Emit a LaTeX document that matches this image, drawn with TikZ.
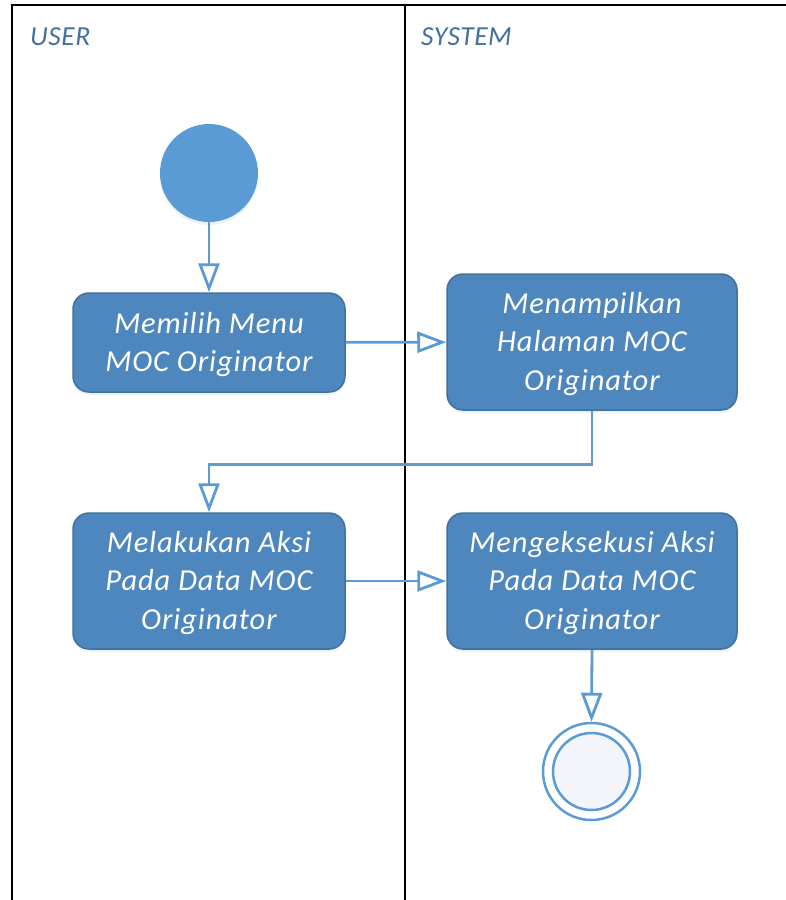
\documentclass[tikz,border=0pt]{standalone}
\usepackage{fontspec}
\setmainfont{Carlito}
\usetikzlibrary{arrows.meta,shadows}
\definecolor{boxfill}{HTML}{4E87BE}
\definecolor{boxline}{HTML}{41719C}
\definecolor{conn}{HTML}{5B9BD5}
\definecolor{hdr}{HTML}{41719C}
\definecolor{endfill}{HTML}{F3F5FB}
\tikzset{
  x=1pt, y=-1pt,
  actbox/.style={draw=boxline, line width=1.5pt, fill=boxfill, rounded corners=16pt,
    text=white, align=center, inner sep=0pt,
    font=\fontsize{30.5}{38.5}\selectfont\itshape\addfontfeatures{LetterSpace=3},
    drop shadow={shadow xshift=0pt, shadow yshift=-3pt, opacity=0.12, fill=conn}},
  acttext/.style={text=white, align=center, inner sep=0pt,
    font=\fontsize{30.5}{38.5}\selectfont\itshape\addfontfeatures{LetterSpace=3}},
  flow/.style={draw=conn, line width=2.8pt,
    -{Triangle[open, length=29pt, width=21pt, line width=2.8pt]}},
  lane/.style={draw=black, line width=2pt},
  hdrtext/.style={text=hdr, anchor=base west, inner sep=0pt,
    font=\fontsize{27.5}{30}\selectfont\itshape\addfontfeatures{LetterSpace=2}}
}
\begin{document}
\begin{tikzpicture}
\useasboundingbox (0,0) rectangle (786,900);
% swimlanes
\draw[lane] (12,900) -- (12,5) -- (786,5);
\draw[lane] (405,5) -- (405,900);
\node[hdrtext] (huser) at (30,45) {USER};
\node[hdrtext] (hsys) at (421,45) {SYSTEM};
% start
\node[circle, fill=conn, minimum size=98pt, inner sep=0pt,
  drop shadow={shadow xshift=0pt, shadow yshift=-3pt, opacity=0.12, fill=conn}] (start) at (209,173) {};
% activities
\node[actbox, minimum width=272pt, minimum height=99pt] (a1) at (209,342.5) {};
\node[acttext] (t1) at (209,344.5) {Memilih Menu\\MOC Originator};
\node[actbox, minimum width=290pt, minimum height=136pt] (a2) at (592,342) {};
\node[acttext] (t2) at (592,344) {Menampilkan\\Halaman MOC\\Originator};
\node[actbox, minimum width=272pt, minimum height=136pt] (a3) at (209,581) {};
\node[acttext] (t3) at (209,583) {Melakukan Aksi\\Pada Data MOC\\Originator};
\node[actbox, minimum width=290pt, minimum height=136pt] (a4) at (592,581) {};
\node[acttext] (t4) at (592,583) {Mengeksekusi Aksi\\Pada Data MOC\\Originator};
% end
\node[circle, draw=conn, line width=2.5pt, fill=white, minimum size=97pt, inner sep=0pt] (finish) at (591.5,771.5) {};
\node[circle, draw=conn, line width=2.5pt, fill=endfill, minimum size=77pt, inner sep=0pt] (finishin) at (591.5,771.5) {};
% connectors
\draw[flow] (start) -- (a1);
\draw[flow] (a1) -- (a2);
\draw[flow] (a2.south) -- ++(0,54) -| (a3.north);
\draw[flow] (a3) -- (a4);
\draw[flow] (a4.south) -- (finish.north);
\end{tikzpicture}
\end{document}
